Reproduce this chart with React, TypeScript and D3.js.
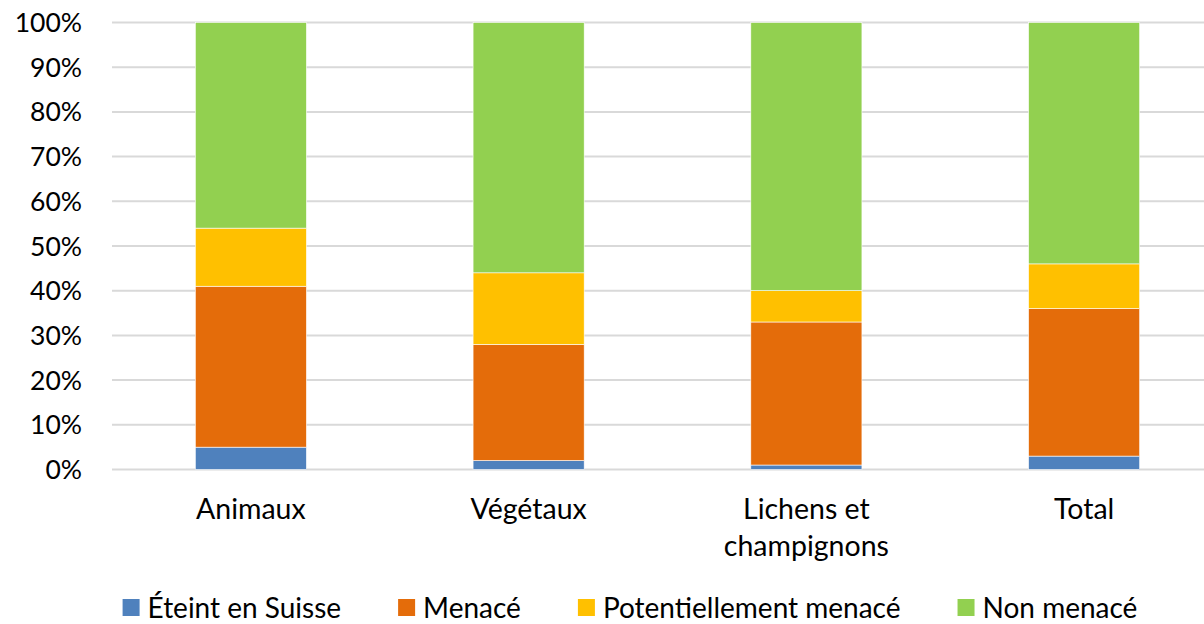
import { useEffect, useRef } from "react";
import * as d3 from "d3";

const categories = ["Animaux", "Végétaux", "Lichens et\nchampignons", "Total"];
const seriesNames = ["Éteint en Suisse", "Menacé", "Potentiellement menacé", "Non menacé"];
const colors = ["#4F81BD", "#E46C0A", "#FFC000", "#92D050"];
// percentages per category, in series order
const eteint = [5, 2, 1, 3];
const menace = [36, 26, 32, 33];
const potentiel = [13, 16, 7, 10];
const nonMenace = [46, 56, 60, 54];
const yTicks = [0, 10, 20, 30, 40, 50, 60, 70, 80, 90, 100];

const W = 1204;
const H = 624;
const FONT = "Lato, 'Open Sans', sans-serif";

export default function App() {
	const svgRef = useRef<SVGSVGElement>(null);

	useEffect(() => {
		const svg = d3.select(svgRef.current);
		svg.selectAll("*").remove();

		const x = d3.scaleBand().domain(categories).range([112, 1223]).paddingInner(0.6).paddingOuter(0.3);
		const y = d3.scaleLinear().domain([0, 100]).range([469.5, 22.5]);

		// gridlines
		svg.append("g")
			.selectAll("line")
			.data(yTicks)
			.join("line")
			.attr("x1", 112)
			.attr("x2", 1223)
			.attr("y1", (d) => y(d))
			.attr("y2", (d) => y(d))
			.attr("stroke", "#D9D9D9")
			.attr("stroke-width", 2);

		// y labels
		svg.append("g")
			.selectAll("text")
			.data(yTicks)
			.join("text")
			.attr("x", 82)
			.attr("y", (d) => y(d))
			.attr("dy", "0.36em")
			.attr("text-anchor", "end")
			.attr("font-family", FONT)
			.attr("font-size", 26.5)
			.attr("fill", "#000")
			.text((d) => d + "%");

		// stacked bars
		const rows = categories.map((c, i) => ({
			cat: c,
			s0: eteint[i],
			s1: menace[i],
			s2: potentiel[i],
			s3: nonMenace[i],
		}));
		const stack = d3.stack<any>().keys(["s0", "s1", "s2", "s3"]);
		const layers = stack(rows);

		svg.append("g")
			.selectAll("g")
			.data(layers)
			.join("g")
			.attr("fill", (_d, i) => colors[i])
			.selectAll("rect")
			.data((d) => d)
			.join("rect")
			.attr("x", (d: any) => x(d.data.cat)!)
			.attr("width", x.bandwidth())
			.attr("y", (d) => y(d[1]))
			.attr("height", (d) => y(d[0]) - y(d[1]))
			.attr("stroke", "#fff")
			.attr("stroke-width", 0.6);

		// category labels
		const labels = svg.append("g")
			.selectAll("text")
			.data(categories)
			.join("text")
			.attr("x", (d) => x(d)! + x.bandwidth() / 2)
			.attr("y", 519)
			.attr("text-anchor", "middle")
			.attr("font-family", FONT)
			.attr("font-size", 28.5)
			.attr("fill", "#000");
		labels.each(function (d) {
			const t = d3.select(this);
			d.split("\n").forEach((line, i) => {
				t.append("tspan")
					.attr("x", x(d)! + x.bandwidth() / 2)
					.attr("dy", i === 0 ? 0 : 37)
					.text(line);
			});
		});

		// legend
		const legend = svg.append("g");
		const items = legend
			.selectAll("g")
			.data(seriesNames)
			.join("g");
		items.append("rect")
			.attr("width", 17)
			.attr("height", 17)
			.attr("y", 599)
			.attr("fill", (_d, i) => colors[i]);
		items.append("text")
			.attr("x", 25)
			.attr("y", 607.5)
			.attr("dy", "0.36em")
			.attr("font-family", FONT)
			.attr("font-size", 28)
			.attr("fill", "#000")
			.text((d) => d);

		const widths: number[] = [];
		items.each(function () {
			const t = d3.select(this).select("text").node() as SVGTextElement;
			widths.push(25 + t.getComputedTextLength());
		});
		const gap = 57;
		const total = d3.sum(widths) + gap * (widths.length - 1);
		let cx = 630 - total / 2;
		items.attr("transform", (_d, i) => {
			const tx = cx;
			cx += widths[i] + gap;
			return `translate(${tx},0)`;
		});
	}, []);

	return (
		<svg
			ref={svgRef}
			width={W}
			height={H}
			style={{ position: "absolute", left: 0, top: 0, background: "#fff" }}
		/>
	);
}
